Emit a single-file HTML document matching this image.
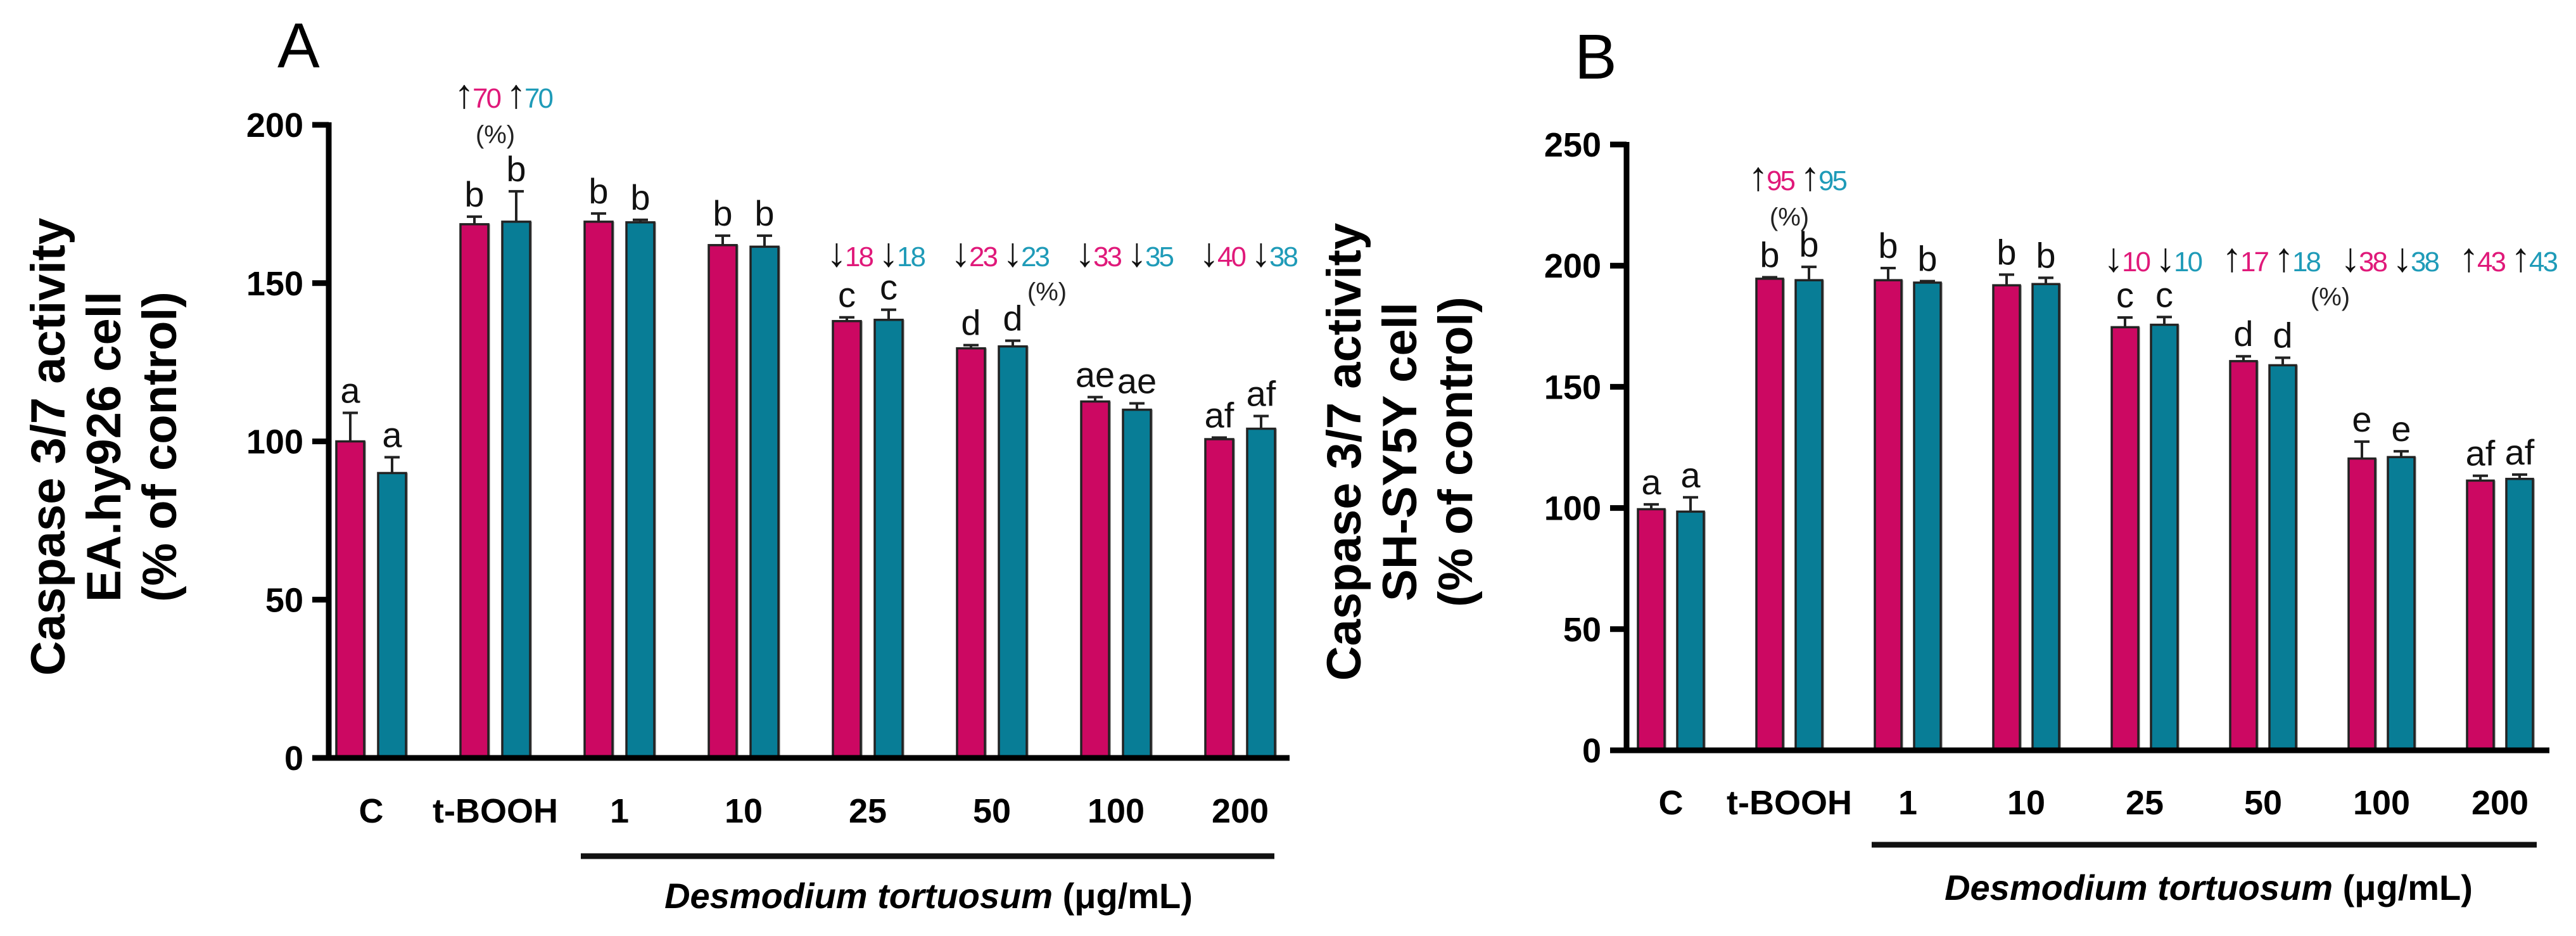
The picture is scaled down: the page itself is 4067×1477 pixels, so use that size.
<!DOCTYPE html>
<html><head><meta charset="utf-8"><style>
html,body{margin:0;padding:0;background:#fff}
svg{display:block}
text{font-family:"Liberation Sans",Arial,sans-serif}
</style></head><body>
<svg id="fig" width="4067" height="1477" viewBox="0 0 4067 1477" xmlns="http://www.w3.org/2000/svg"></svg>
<script>
// ---- data ----
const categories = ["C","t-BOOH","1","10","25","50","100","200"];
const aPink = [100,168.6,169.4,162,138,129.4,112.6,100.7];
const aPinkErr = [9,2.4,2.6,3,1.2,1,1.4,0.5];
const aTeal = [90,169.4,169.2,161.5,138.4,130,110,104];
const aTealErr = [5,9.6,0.8,3.5,3.2,1.8,2,4];
const aPinkLetters = ["a","b","b","b","c","d","ae","af"];
const aTealLetters = ["a","b","b","b","c","d","ae","af"];
const aTicks = [0,50,100,150,200];
const aNotes = [null,["↑","70","↑","70"],null,null,["↓","18","↓","18"],["↓","23","↓","23"],["↓","33","↓","35"],["↓","40","↓","38"]];

const bPink = [99.5,194.6,194,191.9,174.6,160.6,120.4,111.3];
const bPinkErr = [2,0.6,5,4.4,4,2,7,2];
const bTeal = [98.5,194,193,192.4,175.6,158.9,121,112];
const bTealErr = [5.9,5.5,0.6,2.6,3.2,3.1,2.4,1.8];
const bPinkLetters = ["a","b","b","b","c","d","e","af"];
const bTealLetters = ["a","b","b","b","c","d","e","af"];
const bTicks = [0,50,100,150,200,250];
const bNotes = [null,["↑","95","↑","95"],null,null,["↓","10","↓","10"],["↑","17","↑","18"],["↓","38","↓","38"],["↑","43","↑","43"]];

const PINK="#cc0862", TEAL="#087d96", NS="http://www.w3.org/2000/svg";
const svg=document.getElementById('fig');
function mk(tag,attrs,parent,txt){const e=document.createElementNS(NS,tag);for(const k in attrs)e.setAttribute(k,attrs[k]);if(txt!==undefined)e.textContent=txt;(parent||svg).appendChild(e);return e;}

function panel(cfg){
  const g=mk('g',{});
  
  
  const y=v=>cfg.y0-(v/cfg.ymax)*(cfg.y0-cfg.ytop);
  const gx=i=>cfg.c0+i*cfg.step;
  const L=mk('text',{x:cfg.letterX,y:cfg.letterY,'font-size':100},g,cfg.letter);
  
  
  const t=mk('text',{transform:`translate(${cfg.titleX},${cfg.titleY}) rotate(-90)`,'text-anchor':'middle','font-weight':'bold','font-size':76},g);
  
  
  cfg.title.forEach((s,i)=>mk('tspan',{x:0,dy:i===0?0:88},t,s));
  for(let i=0;i<categories.length;i++){
    const cx=gx(i);
    [[cfg.pink,cfg.pinkErr,cfg.pinkL,PINK,-1,'pink'],[cfg.teal,cfg.tealErr,cfg.tealL,TEAL,1,'teal']].forEach(([vals,errs,lets,col,side,nm])=>{
      const bx=side<0?cx-cfg.gap/2-cfg.bw:cx+cfg.gap/2;
      const top=y(vals[i]), et=y(vals[i]+errs[i]);
      const mx=bx+cfg.bw/2;
      const el=mk('line',{x1:mx,x2:mx,y1:top,y2:et,stroke:'#222','stroke-width':4},g);
      
      
      const ec=mk('line',{x1:mx-12,x2:mx+12,y1:et,y2:et,stroke:'#222','stroke-width':4},g);
      
      
      mk('rect',{x:bx+3,y:top,width:cfg.bw,height:cfg.y0-top,fill:'#aaa'},g);
      const r=mk('rect',{x:bx,y:top,width:cfg.bw,height:cfg.y0-top,fill:col,stroke:'#222','stroke-width':3.5},g);
      
      
      const lt=mk('text',{x:mx,y:et-16,'text-anchor':'middle','font-size':56,fill:'#111'},g,lets[i]);
      
      
    });
    const cl=mk('text',{x:cx,y:cfg.catY,'text-anchor':'middle','font-weight':'bold','font-size':54},g,categories[i]);
    
    
    const n=cfg.notes[i];
    if(n){
      const ny=(i===1)?cfg.note1Y:cfg.noteY;
      const nt=mk('text',{x:cx+12,y:ny,'text-anchor':'middle','font-size':44,'letter-spacing':-3},g);
      
      
      mk('tspan',{fill:'#111','font-size':64,'font-weight':'bold'},nt,n[0]);
      mk('tspan',{fill:'#e0197a'},nt,n[1]);
      mk('tspan',{fill:'#111','font-size':64,'font-weight':'bold',dx:10},nt,n[2]);
      mk('tspan',{fill:'#1f9bb8'},nt,n[3]);
      if(i===1){
        const p=mk('text',{x:cx,y:ny+56,'text-anchor':'middle','font-size':40,fill:'#222'},g,'(%)');
        
        
      }
    }
  }
  const p2=mk('text',{x:cfg.pctX,y:cfg.noteY+54,'text-anchor':'middle','font-size':40,fill:'#222'},g,'(%)');
  
  
  const ya=mk('line',{x1:cfg.ax,x2:cfg.ax,y1:cfg.ytop-4,y2:cfg.y0+4,stroke:'#000','stroke-width':9},g);
  
  
  const xa=mk('line',{x1:cfg.ax-26,x2:cfg.axEnd,y1:cfg.y0,y2:cfg.y0,stroke:'#000','stroke-width':9},g);
  
  
  cfg.ticks.forEach(v=>{
    const tk=mk('line',{x1:cfg.ax-26,x2:cfg.ax,y1:y(v),y2:y(v),stroke:'#000','stroke-width':9},g);
    
    
    const tl=mk('text',{x:cfg.ax-40,y:y(v)+19,'text-anchor':'end','font-weight':'bold','font-size':54},g,String(v));
    
    
  });
  const ul=mk('line',{x1:cfg.ulX1,x2:cfg.ulX2,y1:cfg.ulY,y2:cfg.ulY,stroke:'#111','stroke-width':9},g);
  
  
  const xl=mk('text',{x:cfg.xlX,y:cfg.xlY,'text-anchor':'middle','font-size':56,'font-weight':'bold'},g);
  
  
  mk('tspan',{'font-style':'italic'},xl,'Desmodium tortuosum');
  mk('tspan',{},xl,' (μg/mL)');
}

panel({name:'panel-a',letter:'A',letterX:438,letterY:106,
  title:['Caspase 3/7 activity','EA.hy926 cell','(% of control)'],titleX:102,titleY:705,
  pink:aPink,pinkErr:aPinkErr,teal:aTeal,tealErr:aTealErr,pinkL:aPinkLetters,tealL:aTealLetters,
  ticks:aTicks,ymax:200,ytop:197,y0:1196,ax:519,axEnd:2036,c0:586,step:196,bw:44,gap:22,
  catY:1298,notes:aNotes,note1Y:170,noteY:420,pctX:1653,
  ulX1:917,ulX2:2012,ulY:1351,xlX:1466,xlY:1433});
panel({name:'panel-b',letter:'B',letterX:2486,letterY:124,
  title:['Caspase 3/7 activity','SH-SY5Y cell','(% of control)'],titleX:2148,titleY:713,
  pink:bPink,pinkErr:bPinkErr,teal:bTeal,tealErr:bTealErr,pinkL:bPinkLetters,tealL:bTealLetters,
  ticks:bTicks,ymax:250,ytop:228,y0:1184,ax:2568,axEnd:4025,c0:2638,step:187,bw:42,gap:20,
  catY:1285,notes:bNotes,note1Y:300,noteY:428,pctX:3679,
  ulX1:2955,ulX2:4005,ulY:1333,xlX:3487,xlY:1420});
</script>
</body></html>
